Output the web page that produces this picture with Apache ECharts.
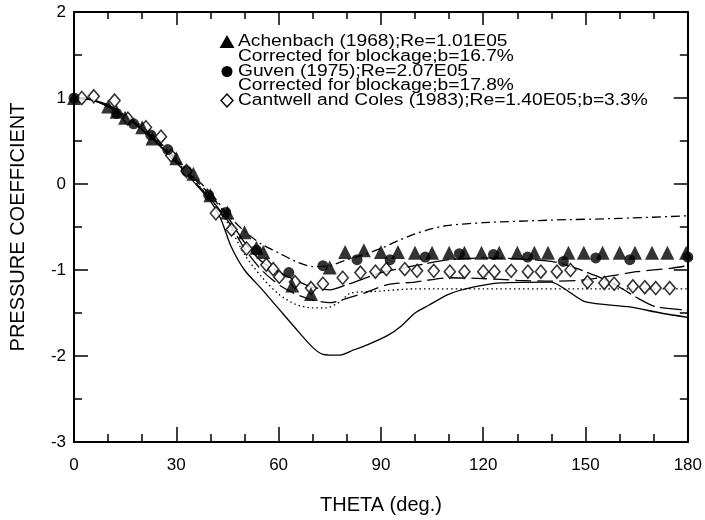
<!DOCTYPE html>
<html>
<head>
<meta charset="utf-8">
<style>
 html, body { margin: 0; padding: 0; background: #fff; }
 #chart { width: 705px; height: 520px; }
</style>
</head>
<body>
<div id="chart"></div>
<script src="https://cdn.jsdelivr.net/npm/echarts@6/dist/echarts.min.js"></script>
<script type="text/javascript">
// measured points [theta, Cp]
var achenbach = [[0,1.0],[10,0.9],[12.5,0.84],[15,0.77],[20,0.66],[23,0.53],[30,0.3],[35,0.12],[40,-0.13],[45,-0.33],
    [50,-0.56],[53.5,-0.74],[55.5,-0.79],[64,-1.18],[69.5,-1.28],[75,-0.97],[79.5,-0.79],[85,-0.77],[90,-0.79],[95,-0.79],
    [100,-0.8],[105,-0.8],[110,-0.8],[114.5,-0.8],[119.5,-0.8],[124.7,-0.8],[130,-0.8],[135,-0.8],[139,-0.8],[145,-0.8],
    [149.5,-0.8],[155,-0.8],[160,-0.8],[164.5,-0.8],[169.5,-0.8],[174,-0.8],[179.5,-0.8]];
var guven = [[0,1.0],[12.5,0.82],[17.5,0.7],[22.5,0.57],[27.5,0.4],[33,0.15],[39.5,-0.13],[44.5,-0.33],[53.5,-0.77],
    [63,-1.03],[73,-0.95],[83,-0.88],[92.7,-0.88],[103,-0.85],[113,-0.81],[123,-0.82],[133,-0.85],[143.5,-0.9],
    [153,-0.86],[163,-0.88],[180,-0.85]];
var cantwell = [[2.3,1.0],[5.8,1.02],[11.9,0.97],[15.8,0.76],[21.1,0.66],[25.5,0.55],[28.5,0.33],[33,0.15],[41.6,-0.34],
    [46.2,-0.53],[50.6,-0.75],[56.4,-0.94],[58.4,-0.99],[60.2,-1.08],[64.8,-1.14],[69.5,-1.21],[73,-1.16],[78.8,-1.09],
    [84,-1.03],[88.4,-1.02],[91.6,-0.99],[97,-0.99],[100.6,-1.01],[105.5,-1.01],[110.2,-1.02],[114.5,-1.02],[120,-1.02],
    [123.3,-1.02],[128.2,-1.01],[133.1,-1.02],[136.9,-1.02],[141.6,-1.02],[145.6,-1.0],[150.6,-1.14],[155.5,-1.15],
    [158.4,-1.16],[163.9,-1.19],[167.4,-1.2],[170.6,-1.21],[174.7,-1.21]];

// computed curves [theta, Cp]
var curveSolid = [[0,1.0],[5,0.98],[10,0.9],[15,0.78],[20,0.63],[25,0.45],[30,0.25],[35,0.03],[40,-0.2],[43,-0.4],
    [46,-0.72],[50,-1.0],[55,-1.22],[60,-1.45],[65,-1.68],[70,-1.9],[73,-1.98],[78,-1.99],[82,-1.93],[86,-1.87],
    [92,-1.76],[96,-1.65],[100,-1.5],[104,-1.41],[110,-1.28],[117,-1.2],[125,-1.15],[140,-1.14],[145,-1.25],
    [150,-1.37],[163,-1.43],[172,-1.5],[180,-1.55]];
var curveDotted = [[0,1.0],[5,0.98],[10,0.9],[15,0.78],[20,0.64],[25,0.46],[30,0.27],[35,0.05],[40,-0.17],[45,-0.45],
    [50,-0.82],[55,-1.08],[60,-1.28],[65,-1.4],[70,-1.44],[74,-1.44],[78,-1.37],[81,-1.27],[88,-1.25],[100,-1.22],
    [120,-1.22],[150,-1.22],[180,-1.22]];
var curveDashDot = [[0,1.0],[5,0.98],[10,0.92],[15,0.8],[20,0.67],[25,0.49],[30,0.3],[35,0.09],[40,-0.1],[45,-0.35],
    [50,-0.55],[55,-0.7],[60,-0.8],[65,-0.9],[70,-0.96],[75,-0.95],[80,-0.88],[85,-0.82],[90,-0.75],[95,-0.66],
    [100,-0.58],[105,-0.52],[110,-0.48],[120,-0.45],[140,-0.42],[160,-0.4],[180,-0.37]];
var curveDashA = [[0,1.0],[5,0.98],[10,0.9],[15,0.78],[20,0.63],[25,0.45],[30,0.25],[35,0.04],[40,-0.17],[45,-0.42],
    [50,-0.75],[55,-1.0],[60,-1.17],[65,-1.28],[70,-1.35],[75,-1.38],[80,-1.33],[85,-1.27],[92,-1.17],[100,-1.14],
    [110,-1.09],[120,-1.1],[130,-1.12],[140,-1.13],[148,-1.12],[156,-1.08],[165,-1.02],[175,-0.98],[180,-0.95]];
var curveDashB = [[0,1.0],[5,0.98],[10,0.92],[15,0.79],[20,0.65],[25,0.47],[30,0.28],[35,0.07],[40,-0.13],[45,-0.38],
    [50,-0.68],[55,-0.9],[60,-1.02],[65,-1.12],[70,-1.2],[75,-1.23],[80,-1.17],[85,-1.1],[90,-1.03],[96,-0.98],
    [100,-0.95],[110,-0.88],[120,-0.86],[130,-0.87],[140,-0.9],[145,-0.95],[150,-1.02],[155,-1.1],[160,-1.2],
    [165,-1.32],[170,-1.42],[175,-1.45],[180,-1.47]];

var legendLines = ['Achenbach (1968);Re=1.01E05', 'Corrected for blockage;b=16.7%', 'Guven (1975);Re=2.07E05',
    'Corrected for blockage;b=17.8%', 'Cantwell and Coles (1983);Re=1.40E05;b=3.3%'];

var font = '"Liberation Sans", Arial, Helvetica, sans-serif';

function xAx(pos) {
    var bottom = pos == 'bottom';
    return {
        type: 'value', position: pos, min: 0, max: 180, interval: 30,
        axisLine: { show: true, onZero: false, lineStyle: { color: '#000', width: 2 } },
        axisTick: { inside: true, length: bottom ? 15 : 13, lineStyle: { color: '#000', width: 1.5 } },
        minorTick: { show: true, splitNumber: 3, length: bottom ? 8 : 7, lineStyle: { color: '#000', width: 1.5 } },
        axisLabel: { show: bottom, color: '#000', fontSize: 17, fontFamily: font, margin: 15 },
        splitLine: { show: false },
        name: bottom ? 'THETA (deg.)' : '', nameLocation: 'middle', nameGap: 53,
        nameTextStyle: { color: '#000', fontSize: 20, fontFamily: font }
    };
}
function yAx(pos) {
    var left = pos == 'left';
    return {
        type: 'value', position: pos, min: -3, max: 2, interval: 1,
        axisLine: { show: true, onZero: false, lineStyle: { color: '#000', width: 2 } },
        axisTick: { inside: true, length: 14, lineStyle: { color: '#000', width: 1.5 } },
        minorTick: { show: true, splitNumber: 2, length: 8, lineStyle: { color: '#000', width: 1.5 } },
        axisLabel: { show: left, color: '#000', fontSize: 17, fontFamily: font, margin: 8 },
        splitLine: { show: false },
        name: left ? 'PRESSURE COEFFICIENT' : '', nameLocation: 'middle', nameGap: 46,
        nameTextStyle: { color: '#000', fontSize: 20, fontFamily: font }
    };
}

function curve(data, type) {
    return {
        type: 'line', data: data, showSymbol: false, smooth: 0.25, silent: true,
        lineStyle: { color: '#000', width: 1.3, type: type }, z: 2
    };
}
function marks(data, symbol, size, filled) {
    return {
        type: 'scatter', data: data, symbol: symbol, symbolSize: size, silent: true, z: 3,
        itemStyle: filled ? { color: '#000' } : { color: '#fff', borderColor: '#000', borderWidth: 1.6 }
    };
}

// legend drawn as graphic (icon lines up with first text line)
var lgY = [42, 57, 71.5, 86, 100.5];
var graphics = [];
legendLines.forEach(function (t, i) {
    graphics.push({
        type: 'text', x: 238, y: lgY[i], scaleX: 1.2,
        style: { text: t, fill: '#000', font: '16px ' + font, textVerticalAlign: 'middle' }
    });
});
graphics.push({ type: 'polygon', shape: { points: [[227, 35], [219.5, 48], [234.5, 48]] }, style: { fill: '#000' } });
graphics.push({ type: 'circle', shape: { cx: 227, cy: lgY[2], r: 5.5 }, style: { fill: '#000' } });
graphics.push({ type: 'polygon', shape: { points: [[227, 94], [233, 100.5], [227, 107], [221, 100.5]] },
    style: { fill: '#fff', stroke: '#000', lineWidth: 1.4 } });

var options = {
    backgroundColor: '#fff',
    animation: false,
    grid: { left: 69, right: 17, top: 12, bottom: 78, containLabel: false },
    xAxis: [xAx('bottom'), xAx('top')],
    yAxis: [yAx('left'), yAx('right')],
    series: [
        curve(curveSolid, 'solid'),
        curve(curveDotted, [1.5, 3]),
        curve(curveDashDot, [9, 4, 2, 4]),
        curve(curveDashA, [16, 6]),
        curve(curveDashB, [22, 5]),
        marks(cantwell, 'diamond', [11, 13], false),
        marks(achenbach, 'triangle', 14, true),
        marks(guven, 'circle', 11, true)
    ],
    graphic: graphics
};

var myChart = echarts.init(document.getElementById('chart'));
myChart.setOption(options);
</script>
</body>
</html>
